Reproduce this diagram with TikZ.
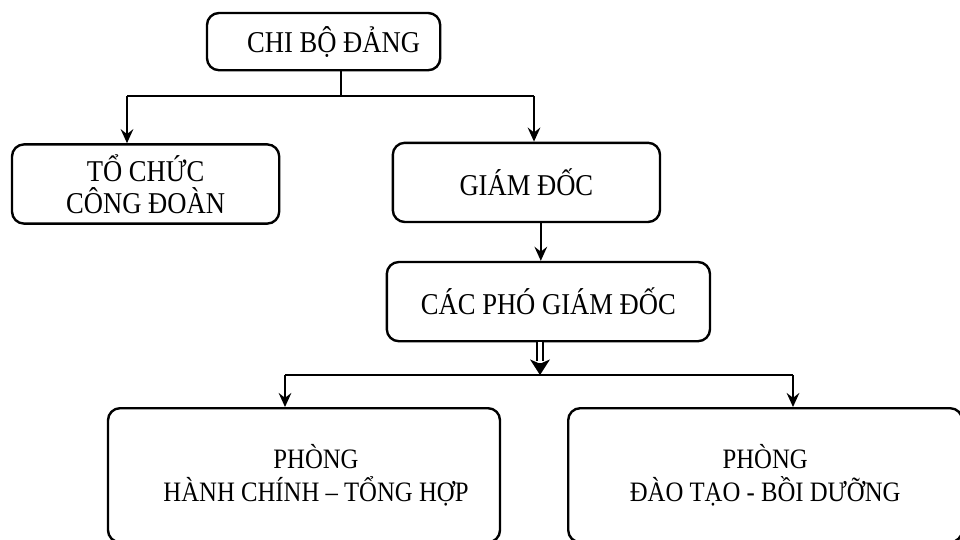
\documentclass[tikz,border=0pt]{standalone}
\usepackage{fontspec}
\setmainfont{Liberation Serif}[FakeStretch=0.88]
\usetikzlibrary{arrows.meta, positioning}

\tikzset{
    orgbox/.style={draw, line width=1.7pt, rounded corners=0.3cm, align=center,
        font=\fontsize{21.5}{25}\selectfont, inner sep=0pt},
    link/.style={line width=1.5pt},
    linkarrow/.style={link, -{Stealth[length=10pt, width=9pt, inset=3.5pt]}}
}

\begin{document}
\begin{tikzpicture}
    \useasboundingbox (0, 0) rectangle (24, -13.475);
    \clip (0, 0) rectangle (24, -13.475);
    \fill[white] (0, 0) rectangle (24, -13.475);

    % các khối
    \node[orgbox, minimum width=5.83cm, minimum height=1.43cm] (chibo) at (8.09, -1.04) {\hspace{0.5cm}CHI BỘ ĐẢNG};
    \node[orgbox, minimum width=6.68cm, minimum height=1.98cm,
        font=\fontsize{21.5}{22.5}\selectfont] (congdoan) at (3.64, -4.6) {TỔ CHỨC\\CÔNG ĐOÀN};
    \node[orgbox, minimum width=6.68cm, minimum height=1.98cm] (giamdoc) at (13.16, -4.56) {GIÁM ĐỐC};
    \node[orgbox, minimum width=8.08cm, minimum height=1.98cm] (phogd) at (13.71, -7.54) {CÁC PHÓ GIÁM ĐỐC};
    \node[orgbox, minimum width=9.8cm, minimum height=3.35cm,
        font=\fontsize{20}{24}\selectfont] (hcth) at (7.6, -11.88) {\hspace{0.6cm}PHÒNG\\\hspace{0.6cm}HÀNH CHÍNH – TỔNG HỢP};
    \node[orgbox, minimum width=9.85cm, minimum height=3.35cm,
        font=\fontsize{20}{24}\selectfont] (dtbd) at (19.13, -11.88) {PHÒNG\\ĐÀO TẠO - BỒI DƯỠNG};

    % nhánh trên
    \coordinate (top split) at (8.525, -2.4);
    \coordinate (top left) at (3.175, -2.4);
    \coordinate (top right) at (13.35, -2.4);
    \draw[link] (chibo.south -| top split) -- (top split);
    \draw[link] (top left) -- (top right);
    \draw[linkarrow] (top left) -- (top left |- congdoan.north);
    \draw[linkarrow] (top right) -- (top right |- giamdoc.north);

    % giám đốc -> phó giám đốc
    \draw[linkarrow] ([xshift=0.36cm]giamdoc.south) -- ([xshift=0.36cm]giamdoc.south |- phogd.north);

    % nhánh dưới
    \coordinate (low split) at (13.5, -9.375);
    \coordinate (low left) at (7.125, -9.375);
    \coordinate (low right) at (19.825, -9.375);
    \draw[line width=1.2pt, double distance=3pt] (phogd.south -| low split) -- ([yshift=0.35cm]low split);
    \draw[link, -{Stealth[length=11pt, width=14pt, inset=3pt]}] ([yshift=0.3cm]low split) -- (low split);
    \draw[link] (low left) -- (low right);
    \draw[linkarrow] (low left) -- (low left |- hcth.north);
    \draw[linkarrow] (low right) -- (low right |- dtbd.north);
\end{tikzpicture}
\end{document}
